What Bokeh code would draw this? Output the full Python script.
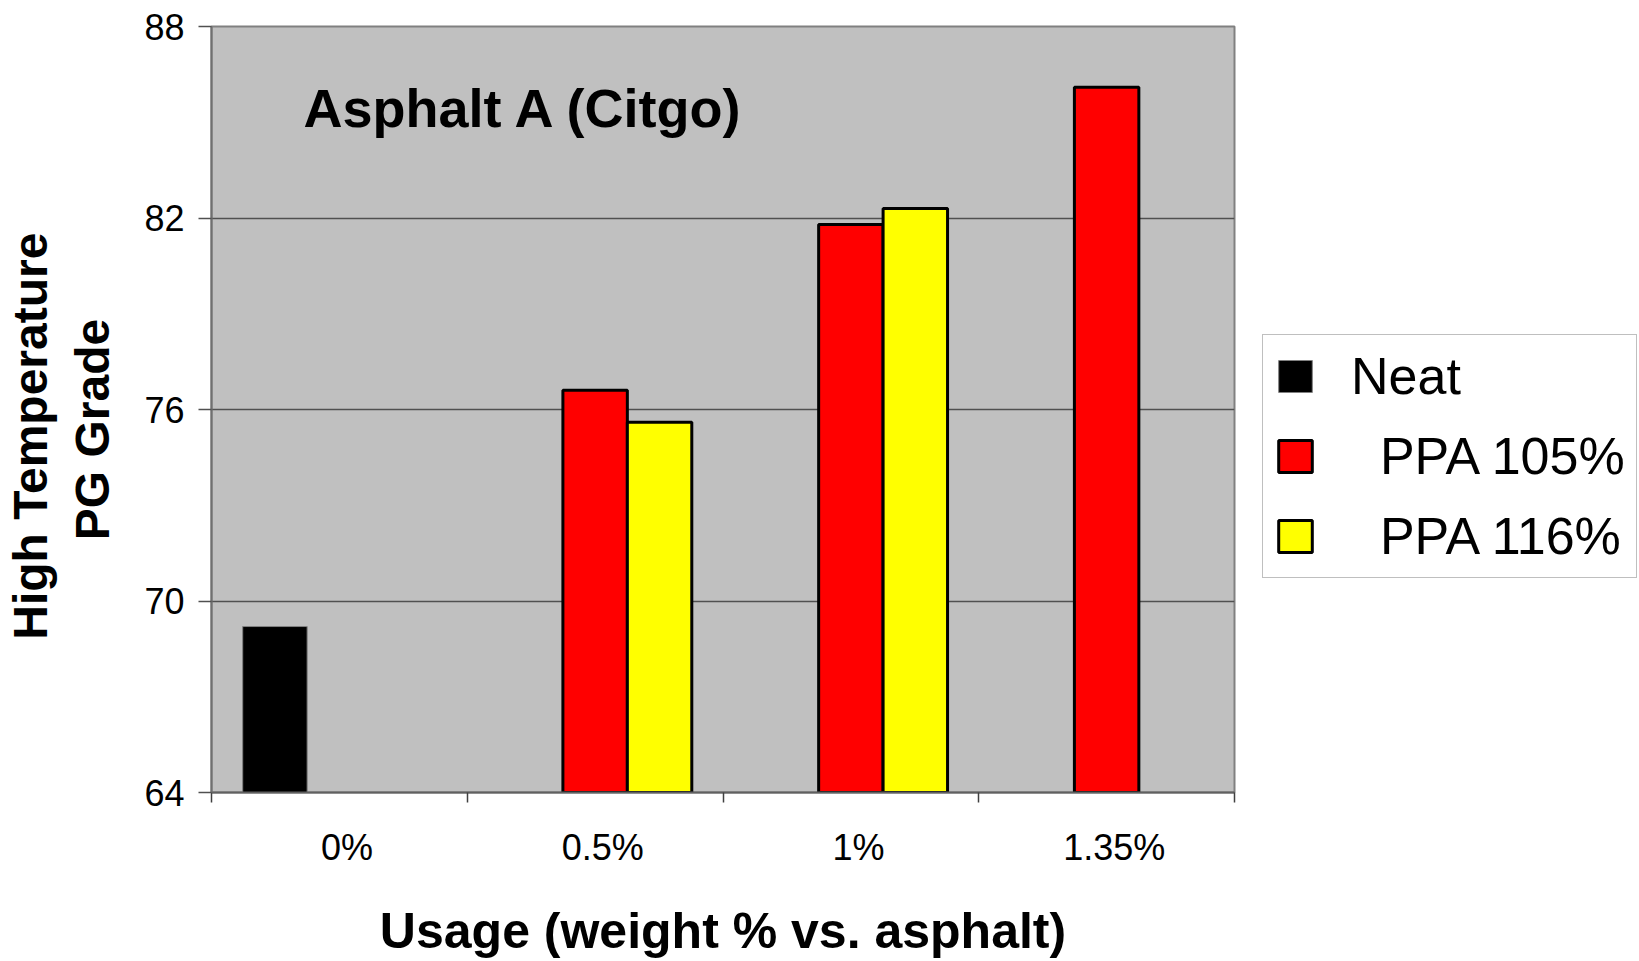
from bokeh.plotting import figure
from bokeh.layouts import row
from bokeh.models import (ColumnDataSource, FixedTicker, Legend, LegendItem,
                          Label, Range1d)
from bokeh.embed import file_html
from bokeh.resources import INLINE

# --- data -------------------------------------------------------------
categories = ["0%", "0.5%", "1%", "1.35%"]
neat = [69.2, None, None, None]
ppa_105 = [None, 76.6, 81.8, 86.1]
ppa_116 = [None, 75.6, 82.3, None]
y_ticks = [64, 70, 76, 82, 88]

series = [
    ("Neat", neat, "black", "#808080", 1),
    ("PPA 105%", ppa_105, "#FF0000", "black", 3),
    ("PPA 116%", ppa_116, "#FFFF00", "black", 3),
]

FONT = "Liberation Sans"
BAR_W = 0.252
NB = "\u00a0"

p = figure(width=1250, height=961, output_backend="svg", toolbar_location=None,
           x_range=Range1d(0, len(categories)),
           y_range=Range1d(y_ticks[0], y_ticks[-1]),
           min_border_left=211, min_border_right=16,
           min_border_top=26, min_border_bottom=169)

p.background_fill_color = "#C0C0C0"
p.border_fill_color = "white"
p.outline_line_color = "#808080"
p.outline_line_width = 2

# gridlines
p.xgrid.visible = False
p.ygrid.ticker = FixedTicker(ticks=y_ticks)
p.ygrid.grid_line_color = "#505050"
p.ygrid.grid_line_width = 1.5

# y axis
p.yaxis.ticker = FixedTicker(ticks=y_ticks)
p.yaxis.axis_line_color = "#707070"
p.yaxis.axis_line_width = 2
p.yaxis.major_tick_line_color = "#505050"
p.yaxis.major_tick_line_width = 1.5
p.yaxis.major_tick_out = 13
p.yaxis.major_tick_in = 0
p.yaxis.minor_tick_line_color = None
p.yaxis.major_label_text_font = FONT
p.yaxis.major_label_text_font_size = "36px"
p.yaxis.major_label_text_color = "black"
p.yaxis.major_label_standoff = 14
p.yaxis.axis_label = "High Temperature" + NB * 4 + "\nPG Grade" + NB * 3
p.yaxis.axis_label_text_font = FONT
p.yaxis.axis_label_text_font_size = "48px"
p.yaxis.axis_label_text_font_style = "bold"
p.yaxis.axis_label_text_color = "black"
p.yaxis.axis_label_text_line_height = 1.17
p.yaxis.axis_label_standoff = 22

# x axis: labels at category centres, tick marks on category boundaries
centres = [i + 0.5 for i in range(len(categories))]
label_pos = [c + 0.03 for c in centres]
bounds = list(range(len(categories) + 1))
p.xaxis.ticker = FixedTicker(ticks=label_pos, minor_ticks=bounds)
p.xaxis.major_label_overrides = {c: lab for c, lab in zip(label_pos, categories)}
p.xaxis.axis_line_color = "#606060"
p.xaxis.axis_line_width = 2
p.xaxis.major_tick_out = 0
p.xaxis.major_tick_in = 0
p.xaxis.minor_tick_out = 10
p.xaxis.minor_tick_in = 0
p.xaxis.minor_tick_line_color = "#404040"
p.xaxis.minor_tick_line_width = 1.5
p.xaxis.major_label_text_font = FONT
p.xaxis.major_label_text_font_size = "36px"
p.xaxis.major_label_text_color = "black"
p.xaxis.major_label_standoff = 24
p.xaxis.axis_label = "Usage (weight % vs. asphalt)"
p.xaxis.axis_label_text_font = FONT
p.xaxis.axis_label_text_font_size = "50px"
p.xaxis.axis_label_text_font_style = "bold"
p.xaxis.axis_label_text_color = "black"
p.xaxis.axis_label_standoff = 32

# bars, grouped within each category
offsets = [-BAR_W, 0.0, BAR_W]
for (name, values, fill, line, lw), off in zip(series, offsets):
    xs = [i + 0.5 + off for i, v in enumerate(values) if v is not None]
    tops = [v for v in values if v is not None]
    src = ColumnDataSource(dict(x=xs, top=tops))
    p.vbar(x="x", top="top", bottom=y_ticks[0], width=BAR_W, source=src,
           fill_color=fill, line_color=line, line_width=lw)

# chart title inside the plotting area
p.add_layout(Label(x=92, y=685, x_units="screen", y_units="screen",
                   text="Asphalt A (Citgo)", text_font=FONT,
                   text_font_size="54px", text_font_style="bold",
                   text_color="black", text_baseline="alphabetic"))

# legend panel to the right of the chart; its swatch renderers hold a single
# NaN row, so they draw nothing themselves but give the legend its swatches
lg = figure(width=389, height=961, output_backend="svg", toolbar_location=None,
            x_range=Range1d(0, 1), y_range=Range1d(0, 1),
            x_axis_location=None, y_axis_location=None,
            min_border=0, outline_line_color=None)
lg.grid.visible = False
lg.background_fill_color = "white"
lg.border_fill_color = "white"

items = []
for name, values, fill, line, lw in series:
    swatch = ColumnDataSource(dict(x=[float("nan")], top=[float("nan")]))
    r = lg.vbar(x="x", top="top", bottom=0, width=0.1, source=swatch,
                fill_color=fill, line_color=line, line_width=lw)
    label = name if name == "Neat" else NB * 2 + name
    items.append(LegendItem(label=label, renderers=[r]))

legend = Legend(items=items, location=(12, 214))
legend.label_text_font = FONT
legend.label_text_font_size = "52px"
legend.label_text_color = "black"
legend.glyph_width = 42
legend.glyph_height = 40
legend.label_standoff = 35
legend.padding = 11
legend.spacing = 20
legend.margin = 0
legend.border_line_color = "#808080"
legend.border_line_width = 1.5
legend.background_fill_color = "white"
legend.background_fill_alpha = 1
lg.add_layout(legend, "center")

open("out.html", "w").write(file_html(row(p, lg), INLINE))
